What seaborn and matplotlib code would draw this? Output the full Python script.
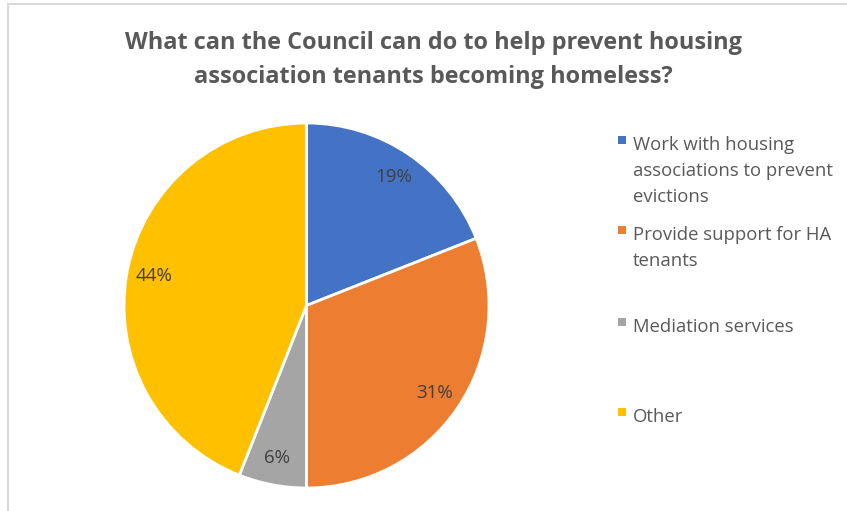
import matplotlib
matplotlib.use("Agg")
import matplotlib.pyplot as plt
from matplotlib.patches import Rectangle
import seaborn as sns

# Survey responses
categories = [
    "Work with housing\nassociations to prevent\nevictions",
    "Provide support for HA\ntenants",
    "Mediation services",
    "Other",
]
shares = [19, 31, 6, 44]
colors = ["#4472C4", "#ED7D31", "#A5A5A5", "#FFC000"]
title = "What can the Council can do to help prevent housing\nassociation tenants becoming homeless?"

sns.set_theme(style="white")
plt.rcParams["font.family"] = ["Open Sans", "DejaVu Sans"]

W, H = 847, 511
fig = plt.figure(figsize=(W / 100, H / 100), dpi=100)
fig.patch.set_facecolor("white")

# chart frame
fig.add_artist(Rectangle((8 / W, -0.1), 1.2, (H - 4) / H + 0.1, transform=fig.transFigure,
                         fill=False, edgecolor="#D9D9D9", linewidth=1.5))

# pie axes: center (306.5, 305.5), radius 182.5 px
cx, cy, r = 306.5, 305.5, 182.5
ax = fig.add_axes([(cx - r) / W, (H - cy - r) / H, 2 * r / W, 2 * r / H])
wedges, texts, autotexts = ax.pie(
    shares, colors=colors, startangle=90, counterclock=False,
    autopct=lambda p: f"{p:.0f}%", pctdistance=0.85, radius=1.0,
    wedgeprops=dict(edgecolor="white", linewidth=2),
    textprops=dict(color="#404040", fontsize=13.5),
)
ax.set_xlim(-1, 1)
ax.set_ylim(-1, 1)
ax.set_aspect("equal")
ax.axis("off")

fig.text(0.5 * (125 + 742) / W, 1 - 60 / H, title, ha="center", va="center",
         fontsize=16.9, fontweight="bold", color="#595959", linespacing=1.52)

# legend
ys = [143, 233, 325, 415]
for lab, col, y in zip(categories, colors, ys):
    fig.add_artist(Rectangle((618 / W, 1 - (y + 1) / H), 8 / W, 8 / H,
                             transform=fig.transFigure, facecolor=col, edgecolor="none"))
    fig.text(633 / W, 1 - (y - 7) / H, lab, ha="left", va="top", fontsize=13.3,
             color="#595959", linespacing=1.58)

fig.savefig("out.png", dpi=100)
